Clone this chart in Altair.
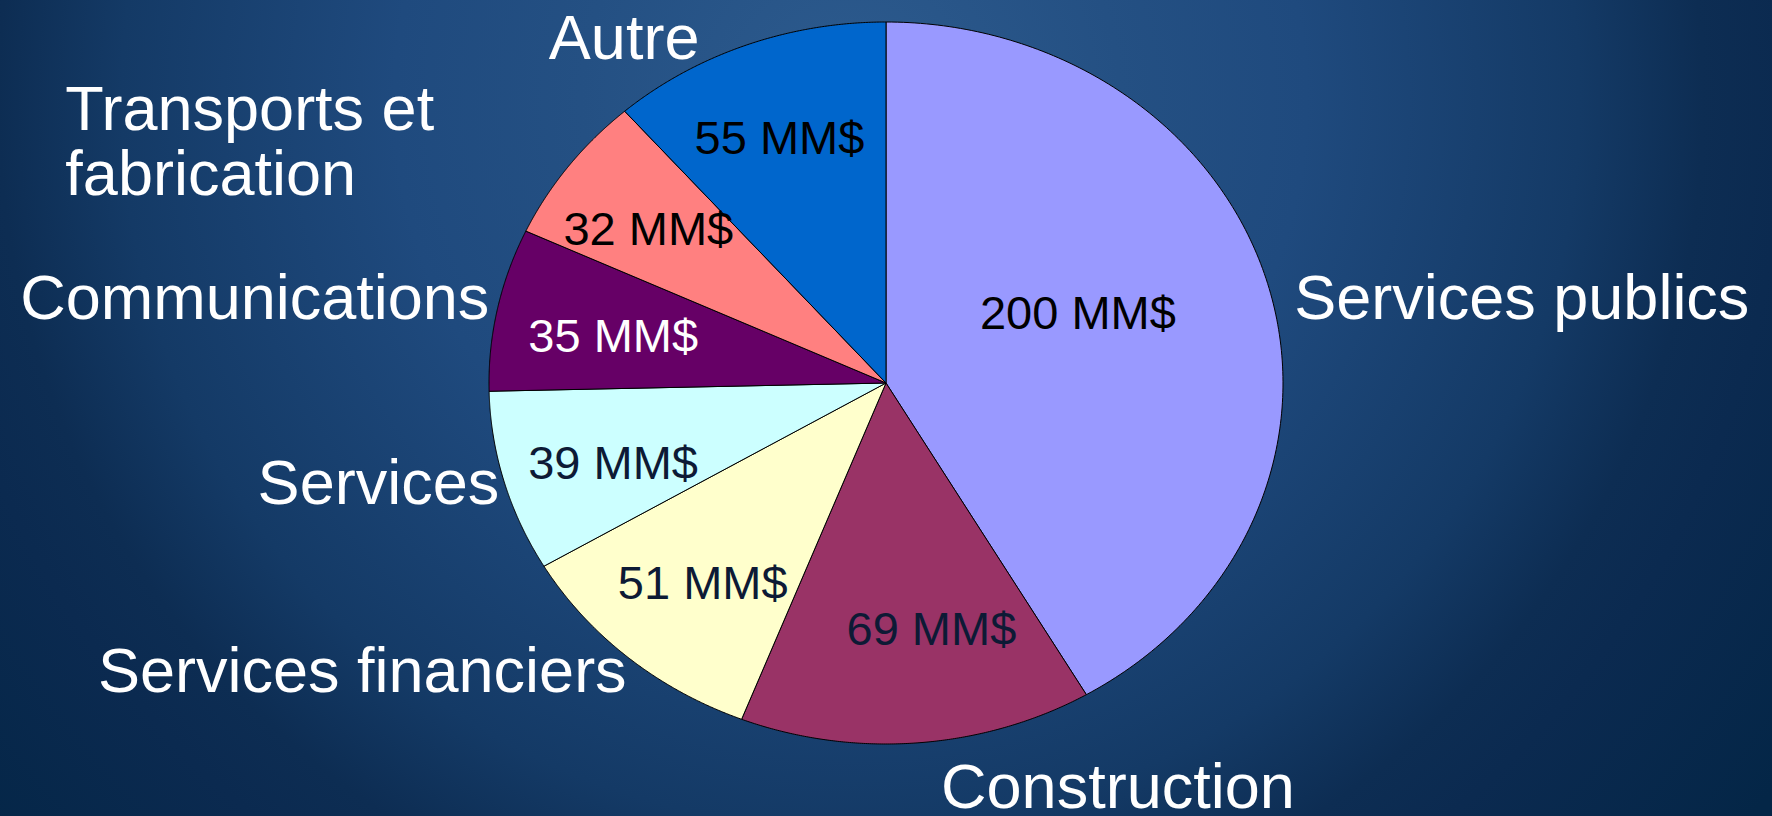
import altair as alt
import pandas as pd

# ---- data ----
categories = ["Services publics", "Construction", "Services financiers", "Services",
              "Communications", "Transports et fabrication", "Autre"]
values = [200, 69, 51, 39, 35, 32, 55]
colors = ["#9999FF", "#993366", "#FFFFCC", "#CCFFFF", "#660066", "#FF8080", "#0066CC"]
outer_labels = ["Services publics", "Construction", "Services financiers", "Services",
                "Communications", "Transports et\nfabrication", "Autre"]
value_labels = [f"{v} MM$" for v in values]

df = pd.DataFrame({
    "cat": categories,
    "value": values,
    "order": list(range(len(categories))),
    "label": outer_labels,
    "vlabel": value_labels,
})

# ---- layout ----
W, H = 1772, 816
CX, CY, RX, RY = 886, 383, 397, 361
FONT = "Liberation Sans"

xscale = alt.Scale(domain=[-CX / RX, (W - CX) / RX], range=[0, W], nice=False, zero=False)
yscale = alt.Scale(domain=[-(H - CY) / RY, CY / RY], range=[H, 0], nice=False, zero=False)

base = (
    alt.Chart(df)
    .transform_joinaggregate(total="sum(value)")
    .transform_window(cum="sum(value)", sort=[alt.SortField("order", order="ascending")], frame=[None, 0])
    .transform_calculate(a0="2*PI*(datum.cum - datum.value)/datum.total")
    .transform_calculate(a1="2*PI*datum.cum/datum.total")
)

N = 180
pie = (
    base.transform_calculate(k=f"sequence(0, {N + 3})")
    .transform_flatten(["k"])
    .transform_calculate(ang=f"datum.a0 + (datum.a1 - datum.a0)*clamp((datum.k - 1)/{N}, 0, 1)")
    .transform_calculate(rim=f"(datum.k > 0 && datum.k < {N + 2}) ? 1 : 0")
    .transform_calculate(px="datum.rim*sin(datum.ang)")
    .transform_calculate(py="datum.rim*cos(datum.ang)")
    .mark_line(stroke="black", strokeWidth=1, strokeJoin="round")
    .encode(
        x=alt.X("px:Q", scale=xscale, axis=None),
        y=alt.Y("py:Q", scale=yscale, axis=None),
        fill=alt.Fill("cat:N", scale=alt.Scale(domain=categories, range=colors), legend=None),
        detail="cat:N",
        order=alt.Order("k:Q"),
    )
)

lab = (
    base.transform_calculate(mid="(datum.a0 + datum.a1)/2")
    .transform_calculate(ox="sin(datum.mid)")
    .transform_calculate(oy="cos(datum.mid)")
    .transform_calculate(ix="0.72*sin(datum.mid)")
    .transform_calculate(iy="0.72*cos(datum.mid)")
)

# label layout (offsets from the slice anchor points)
outer_style = {
    "Services publics": dict(align="left", dx=25, dy=30),
    "Construction": dict(align="left", dx=24, dy=65),
    "Services financiers": dict(align="right", dx=-2, dy=34),
    "Services": dict(align="right", dx=-5, dy=22),
    "Communications": dict(align="right", dx=-8, dy=10),
    "Transports et fabrication": dict(align="left", dx=-503, dy=-36),
    "Autre": dict(align="right", dx=-47, dy=14),
}
inner_style = {
    "Services publics": dict(dx=-84, dy=0, color="#000000"),
    "Construction": dict(dx=23, dy=-11, color="#0d1a35"),
    "Services financiers": dict(dx=2, dy=4, color="#0d1a35"),
    "Services": dict(dx=2, dy=11, color="#0d1a35"),
    "Communications": dict(dx=7, dy=8, color="#ffffff"),
    "Transports et fabrication": dict(dx=-9, dy=4, color="#000000"),
    "Autre": dict(dx=-6, dy=0, color="#000000"),
}

layers = []
for c in categories:
    s = outer_style[c]
    layers.append(
        lab.transform_filter(alt.datum.cat == c)
        .mark_text(font=FONT, fontSize=63, color="white", align=s["align"], baseline="alphabetic",
                   dx=s["dx"], dy=s["dy"], lineBreak="\n", lineHeight=65)
        .encode(x=alt.X("ox:Q", scale=xscale, axis=None),
                y=alt.Y("oy:Q", scale=yscale, axis=None),
                text="label:N")
    )
    t = inner_style[c]
    layers.append(
        lab.transform_filter(alt.datum.cat == c)
        .mark_text(font=FONT, fontSize=47, color=t["color"], align="center", baseline="middle",
                   dx=t["dx"], dy=t["dy"])
        .encode(x=alt.X("ix:Q", scale=xscale, axis=None),
                y=alt.Y("iy:Q", scale=yscale, axis=None),
                text="vlabel:N")
    )

grad = {
    "gradient": "radial",
    "x1": 0.48, "y1": 0.326, "r1": 0,
    "x2": 0.48, "y2": 0.326, "r2": 0.65,
    "stops": [
        {"offset": 0.0, "color": "#2d5b8e"},
        {"offset": 0.234, "color": "#245083"},
        {"offset": 0.396, "color": "#1f4a7e"},
        {"offset": 0.633, "color": "#143a66"},
        {"offset": 0.74, "color": "#0d2d53"},
        {"offset": 0.81, "color": "#0b2a50"},
        {"offset": 1.0, "color": "#042647"},
    ],
}
bg = alt.Chart(pd.DataFrame({"z": [0]})).mark_rect(fill=grad).encode(
    x=alt.value(0), x2=alt.value(W), y=alt.value(0), y2=alt.value(H)
)

chart = (
    alt.layer(bg, pie, *layers)
    .properties(width=W, height=H, padding=0, autosize=alt.AutoSizeParams(type="none"),
                background="#0b2a50")
    .configure_view(strokeWidth=0)
)

chart.save("out.html", embed_options={"renderer": "svg", "actions": False})
